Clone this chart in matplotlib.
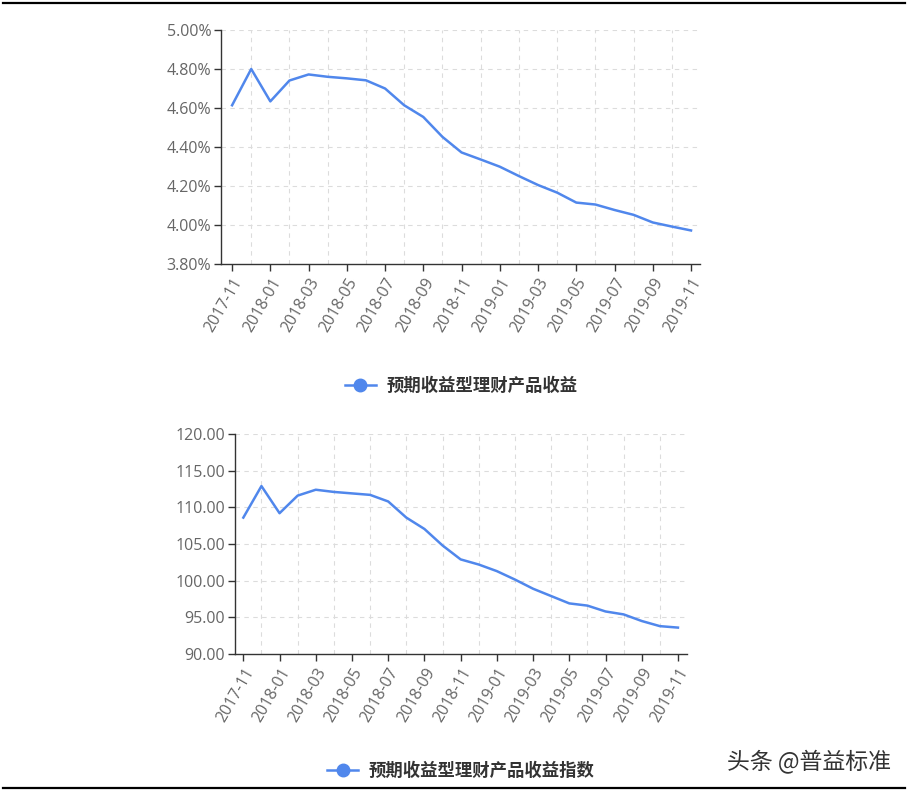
import matplotlib
matplotlib.use('Agg')
import matplotlib.pyplot as plt
from matplotlib.lines import Line2D

plt.rcParams['font.family'] = ['Noto Sans CJK SC', 'DejaVu Sans']

# 월별 데이터 (2017-11 ~ 2019-11)
months = ['2017-11', '2017-12', '2018-01', '2018-02', '2018-03', '2018-04', '2018-05',
          '2018-06', '2018-07', '2018-08', '2018-09', '2018-10', '2018-11', '2018-12',
          '2019-01', '2019-02', '2019-03', '2019-04', '2019-05', '2019-06', '2019-07',
          '2019-08', '2019-09', '2019-10', '2019-11']

# 预期收益型理财产品收益 (%)
yield_pct = [4.614, 4.80, 4.634, 4.741, 4.772, 4.760, 4.752, 4.742, 4.700, 4.614,
             4.554, 4.452, 4.372, 4.336, 4.299, 4.251, 4.205, 4.166, 4.115, 4.105,
             4.077, 4.052, 4.013, 3.992, 3.972]

# 预期收益型理财产品收益指数
yield_index = [108.6, 112.9, 109.2, 111.6, 112.4, 112.1, 111.9, 111.7, 110.8, 108.6,
               107.05, 104.8, 102.9, 102.2, 101.3, 100.15, 98.9, 97.9, 96.9, 96.6,
               95.8, 95.4, 94.5, 93.8, 93.6]

top_ticks = [3.80, 4.00, 4.20, 4.40, 4.60, 4.80, 5.00]
bottom_ticks = [90, 95, 100, 105, 110, 115, 120]

line_color = '#5087ec'
label_color = '#666666'
axis_color = '#333333'

fig = plt.figure(figsize=(9.12, 7.94), dpi=100)

# 위/아래 차트 영역
ax1 = fig.add_axes([221 / 912, 1 - 264 / 794, 479 / 912, 234 / 794])
ax2 = fig.add_axes([235 / 912, 1 - 654 / 794, 452 / 912, 220 / 794])


def style_axis(ax, values, yticks, ylabels, xlim):
    x = list(range(len(months)))
    ax.plot(x, values, color=line_color, linewidth=1.8, solid_joinstyle='round')
    ax.set_xlim(*xlim)
    ax.set_ylim(yticks[0], yticks[-1])
    ax.set_yticks(yticks)
    ax.set_yticklabels(ylabels, family=['Open Sans', 'DejaVu Sans'], fontsize=11.5, color=label_color)
    ax.set_xticks(x[::2])
    ax.set_xticklabels(months[::2], rotation=60, ha='right', va='top', rotation_mode='anchor',
                       family=['Open Sans', 'DejaVu Sans'], fontsize=11.5, color=label_color)
    ax.tick_params(axis='both', length=5, width=1, color=axis_color, pad=2)
    ax.tick_params(axis='x', pad=3)
    for s in ['top', 'right']:
        ax.spines[s].set_visible(False)
    for s in ['left', 'bottom']:
        ax.spines[s].set_color(axis_color)
        ax.spines[s].set_linewidth(1)
    # 점선 격자
    for yv in yticks[1:]:
        ax.axhline(yv, color='#dcdcdc', linestyle=(0, (4, 4)), linewidth=0.8, zorder=0)
    for xv in x[1::2]:
        ax.axvline(xv, color='#dcdcdc', linestyle=(0, (4, 4)), linewidth=0.8, zorder=0)


style_axis(ax1, yield_pct, top_ticks, [f'{v:.2f}%' for v in top_ticks], (-0.58, 24.47))
style_axis(ax2, yield_index, bottom_ticks, [f'{v:.2f}' for v in bottom_ticks], (-0.46, 24.5))

# 범례
h = Line2D([], [], color=line_color, linewidth=1.8, marker='o', markersize=9,
           markerfacecolor=line_color, markeredgecolor=line_color)
leg1 = fig.legend([h], ['预期收益型理财产品收益'], loc='center',
                  bbox_to_anchor=(461 / 912, 1 - 386 / 794), frameon=False,
                  prop={'family': ['Noto Sans CJK SC'], 'size': 12.5, 'weight': 'bold'},
                  handlelength=1.8, handletextpad=0.6, labelcolor='#333333')
leg2 = fig.legend([h], ['预期收益型理财产品收益指数'], loc='center',
                  bbox_to_anchor=(461 / 912, 1 - 771 / 794), frameon=False,
                  prop={'family': ['Noto Sans CJK SC'], 'size': 12.5, 'weight': 'bold'},
                  handlelength=1.8, handletextpad=0.6, labelcolor='#333333')

# 워터마크
fig.text(891 / 912, 1 - 762 / 794, '头条 @普益标准', ha='right', va='center',
         fontsize=16.5, color='#333333', family=['Noto Sans CJK SC', 'DejaVu Sans'])

# 위/아래 검은 선
fig.add_artist(Line2D([3 / 912, 905 / 912], [1 - 2.5 / 794, 1 - 2.5 / 794],
                      color='black', linewidth=1.6, transform=fig.transFigure))
fig.add_artist(Line2D([3 / 912, 905 / 912], [1 - 788 / 794, 1 - 788 / 794],
                      color='black', linewidth=1.6, transform=fig.transFigure))

fig.savefig('out.png', dpi=100)
